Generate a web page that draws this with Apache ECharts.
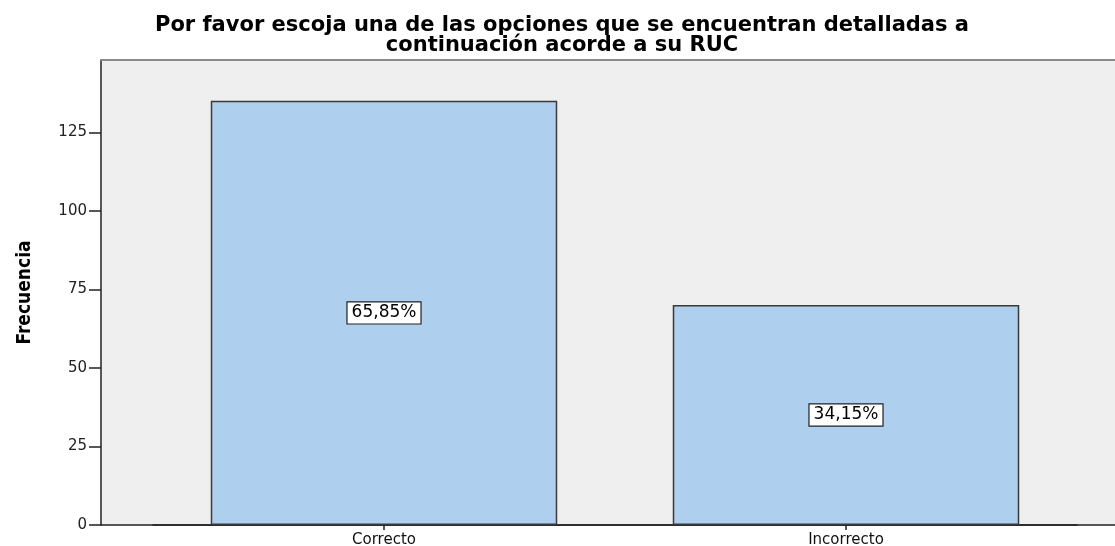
<!DOCTYPE html>
<html>
<head>
<meta charset="utf-8">
<script src="https://cdn.jsdelivr.net/npm/echarts@6/dist/echarts.min.js"></script>
<style>
  html, body { margin: 0; padding: 0; background: #fff; }
  #chart { width: 1115px; height: 546px; }
</style>
</head>
<body>
<div id="chart"></div>
<script>
// datos del gráfico
const categories = ['Correcto', 'Incorrecto']
const frecuencias = [135, 70]
const yTicks = [0, 25, 50, 75, 100, 125]

const total = frecuencias.reduce((a, b) => a + b, 0)
const pct = v => (v / total * 100).toFixed(2).replace('.', ',') + '%'

const myChart = echarts.init(document.getElementById('chart'))

const option = {
  animation: false,
  graphic: [
    {
      type: 'text',
      x: 562,
      y: 36,
      style: {
        text: 'Por favor escoja una de las opciones que se encuentran detalladas a\ncontinuación acorde a su RUC',
        align: 'center',
        verticalAlign: 'middle',
        fontFamily: 'DejaVu Sans',
        fontWeight: 'bold',
        fontSize: 21,
        lineHeight: 20,
        fill: '#000'
      }
    }
  ],
  grid: [
    // barras
    { left: 153, right: 38, top: 60, bottom: 21, outerBoundsMode: 'none' },
    // fondo del área de trazado
    { left: 101, right: 0, top: 60, bottom: 21, outerBoundsMode: 'none', show: true, backgroundColor: '#efefef', borderWidth: 0 }
  ],
  xAxis: [
    {
      type: 'category',
      gridIndex: 0,
      data: categories,
      axisLine: { show: true, lineStyle: { color: '#222', width: 1.5 } },
      axisTick: { show: true, alignWithLabel: true, length: 5, lineStyle: { color: '#222', width: 1.5 } },
      axisLabel: { color: '#111', fontFamily: 'DejaVu Sans', fontSize: 15, margin: 8 }
    },
    {
      type: 'value',
      gridIndex: 1,
      axisLine: { show: true, lineStyle: { color: '#222', width: 1.5 } },
      axisTick: { show: false },
      axisLabel: { show: false },
      splitLine: { show: false }
    },
    {
      type: 'value',
      gridIndex: 1,
      position: 'top',
      axisLine: { show: true, lineStyle: { color: '#8a8a8a', width: 2 } },
      axisTick: { show: false },
      axisLabel: { show: false },
      splitLine: { show: false }
    }
  ],
  yAxis: [
    {
      type: 'value',
      gridIndex: 0,
      min: 0,
      max: 148,
      interval: 25,
      offset: 52,
      name: 'Frecuencia',
      nameLocation: 'middle',
      nameRotate: 90,
      nameGap: 66,
      nameTextStyle: {
        fontFamily: 'DejaVu Sans Condensed',
        fontWeight: 'bold',
        fontSize: 19,
        color: '#000'
      },
      axisLine: { show: true, lineStyle: { color: '#222', width: 1.5 } },
      axisTick: { show: true, length: 12, customValues: yTicks, lineStyle: { color: '#222', width: 1.5 } },
      axisLabel: {
        color: '#222',
        fontFamily: 'DejaVu Sans',
        fontSize: 15,
        margin: 14,
        customValues: yTicks
      },
      splitLine: { show: false }
    },
    { type: 'value', gridIndex: 1, show: false }
  ],
  series: [
    {
      type: 'bar',
      xAxisIndex: 0,
      yAxisIndex: 0,
      data: frecuencias,
      barCategoryGap: '25%',
      itemStyle: { color: '#aecfee', borderColor: '#3a3a3a', borderWidth: 1.5 },
      label: {
        show: true,
        position: 'inside',
        formatter: p => pct(p.value),
        color: '#000',
        fontFamily: 'DejaVu Sans',
        fontSize: 17,
        lineHeight: 16,
        backgroundColor: '#fff',
        borderColor: '#222',
        borderWidth: 1.2,
        padding: [3, 4, 2, 4]
      }
    }
  ]
}

myChart.setOption(option)
</script>
</body>
</html>
